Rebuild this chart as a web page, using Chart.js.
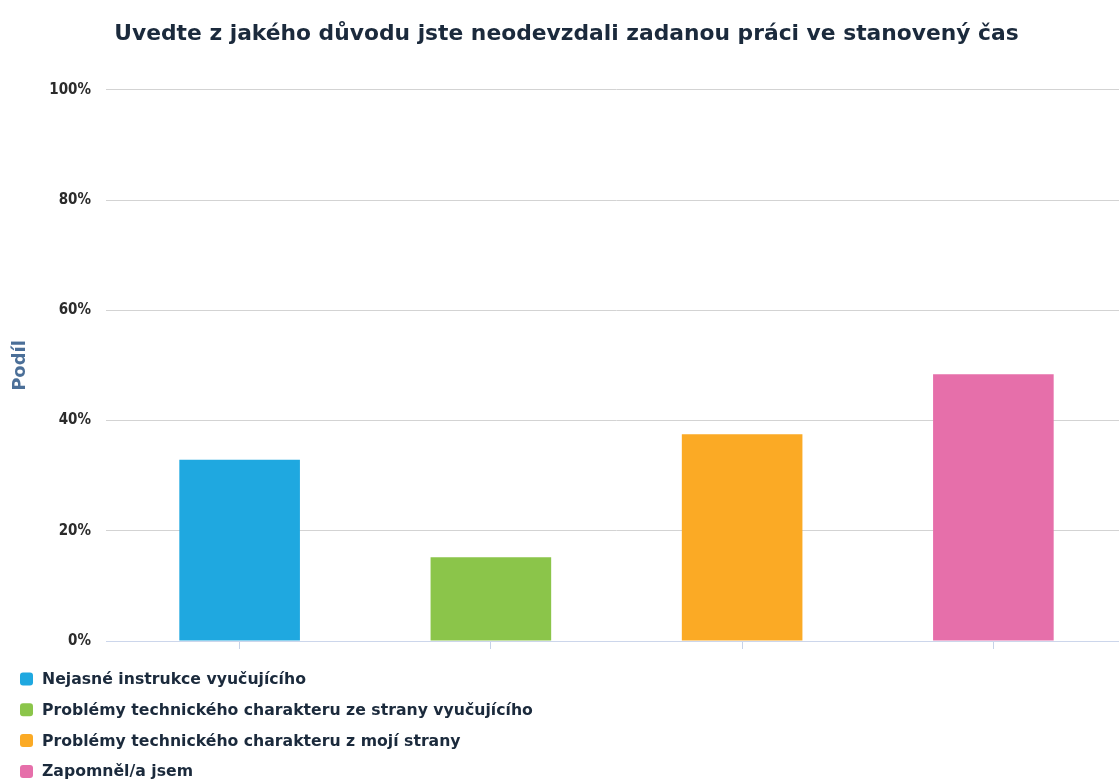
<!DOCTYPE html>
<html>
<head>
<meta charset="utf-8">
<script src="https://cdn.jsdelivr.net/npm/chart.js@4/dist/chart.umd.min.js"></script>
<style>
  html, body { margin: 0; padding: 0; background: #ffffff; }
  #wrap { width: 1119px; height: 782px; }
</style>
</head>
<body>
<div id="wrap"><canvas id="chart" width="1119" height="782"></canvas></div>
<script>
// Survey answers: why the assignment was not handed in on time
const titleText = 'Uvedte z jakého důvodu jste neodevzdali zadanou práci ve stanovený čas';
const axisTitle = 'Podíl';
const categories = [
  'Nejasné instrukce vyučujícího',
  'Problémy technického charakteru ze strany vyučujícího',
  'Problémy technického charakteru z mojí strany',
  'Zapomněl/a jsem'
];
const shares = [32.9, 15.2, 37.5, 48.4];
const yTickValues = [0, 20, 40, 60, 80, 100];
const barColors = ['#1fa8e0', '#8bc54a', '#fbaa25', '#e66faa'];

const textColor = '#1b2a3c';
const fontFamily = '"DejaVu Sans", sans-serif';

// Centre the title over the plot area a little right of the canvas middle
const titleShift = {
  id: 'titleShift',
  afterLayout(chart) {
    if (chart.titleBlock) {
      chart.titleBlock.left += 7;
      chart.titleBlock.right += 7;
    }
  }
};

// Legend drawn as a single column under the plot
const columnLegend = {
  id: 'columnLegend',
  afterDraw(chart) {
    const ctx = chart.ctx;
    const top = chart.chartArea.bottom + 38;
    const step = 30.8;
    ctx.save();
    ctx.font = 'bold 15.7px ' + fontFamily;
    ctx.textBaseline = 'middle';
    ctx.textAlign = 'left';
    categories.forEach((label, i) => {
      const cy = top + i * step;
      ctx.fillStyle = barColors[i];
      ctx.beginPath();
      ctx.roundRect(20, cy - 6.5, 13, 13, 3);
      ctx.fill();
      ctx.fillStyle = textColor;
      ctx.fillText(label, 42, cy + 1);
    });
    ctx.restore();
  }
};

new Chart(document.getElementById('chart'), {
  type: 'bar',
  data: {
    labels: categories,
    datasets: [{
      label: axisTitle,
      data: shares,
      backgroundColor: barColors,
      borderWidth: 0,
      categoryPercentage: 1,
      barPercentage: 0.48
    }]
  },
  options: {
    responsive: false,
    animation: false,
    layout: { padding: 0 },
    plugins: {
      legend: { display: false },
      tooltip: { enabled: false },
      title: {
        display: true,
        text: titleText,
        color: textColor,
        font: { family: fontFamily, size: 21.8, weight: 'bold', lineHeight: 1.2 },
        padding: { top: 21, bottom: 42.8 }
      }
    },
    scales: {
      x: {
        grid: {
          display: true,
          drawOnChartArea: false,
          drawTicks: true,
          tickLength: 8,
          offset: false,
          color: '#c6d2e8'
        },
        border: { display: true, color: '#ccd6eb', width: 1 },
        ticks: { display: false },
        afterFit(scale) { scale.height = 141; }
      },
      y: {
        min: 0,
        max: 100,
        afterBuildTicks(scale) {
          scale.ticks = yTickValues.map(v => ({ value: v }));
        },
        grid: {
          color: ctx => (ctx.tick && ctx.tick.value === 0) ? '#ccd6eb' : '#d3d3d3',
          lineWidth: 1,
          drawTicks: true,
          tickLength: 8
        },
        border: { display: false },
        ticks: {
          color: '#2b2b2b',
          padding: 15,
          font: { family: '"DejaVu Sans Condensed", "DejaVu Sans", sans-serif', size: 15, weight: 'bold' },
          callback: v => v + '%'
        },
        title: {
          display: true,
          text: axisTitle,
          color: '#4b6f98',
          font: { family: fontFamily, size: 18, weight: 'bold', lineHeight: 1.2 },
          padding: { top: 10, bottom: 0 }
        },
        afterFit(scale) { scale.width = 114; }
      }
    }
  },
  plugins: [titleShift, columnLegend]
});
</script>
</body>
</html>
